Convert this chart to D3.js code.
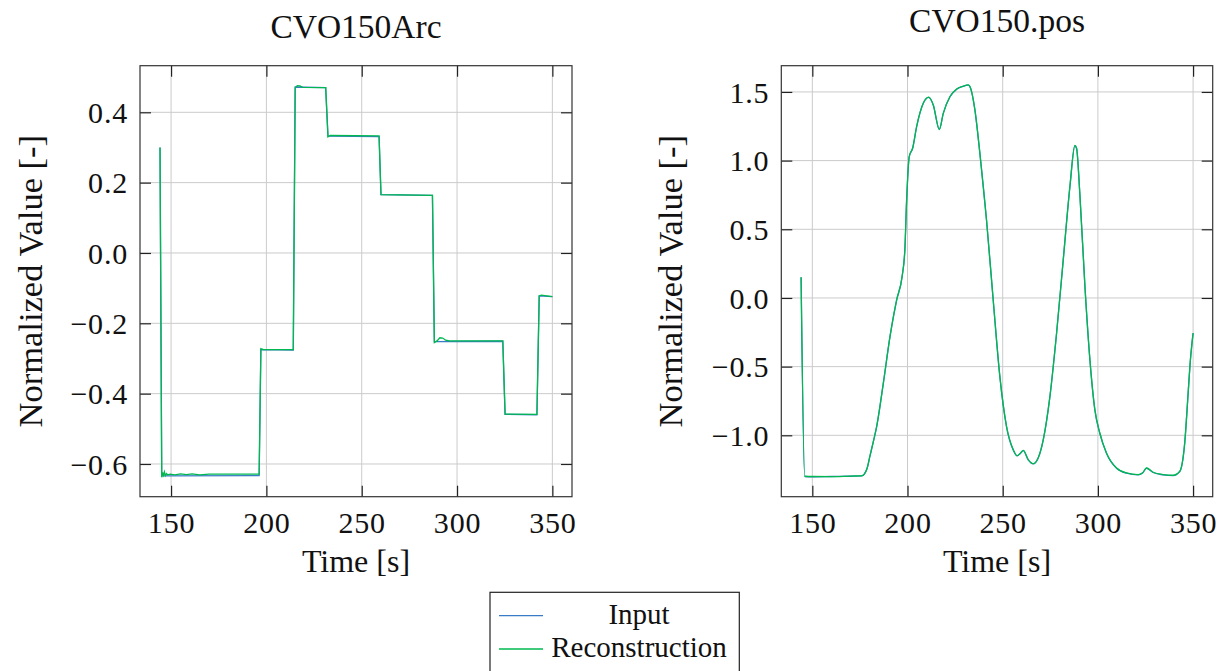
<!DOCTYPE html>
<html>
<head>
<meta charset="utf-8">
<script src="https://cdn.jsdelivr.net/npm/d3@7"></script>
<style>
  body { margin: 0; background: #fff; }
  text { font-family: "Liberation Serif", serif; fill: #111; }
</style>
</head>
<body>
<svg id="chart" width="1228" height="671"></svg>
<script>
// ---- data ----
var arcInputTime  = [144.2, 145.1, 196.2, 197.1, 214.1, 215.1, 231.1, 232.3, 259.1, 260.1, 287.1, 288.1, 324.0, 325.2, 341.9, 343.1, 350.0];
var arcInputValue = [0.300, -0.634, -0.633, -0.275, -0.276, 0.472, 0.470, 0.332, 0.331, 0.166, 0.164, -0.252, -0.251, -0.459, -0.460, -0.122, -0.124];

var arcReconTime  = [144.2, 145.1, 145.5, 146.0, 146.5, 147.0, 147.6, 148.3, 149.5, 152, 155, 158, 161, 165, 170, 196.2,
                     197.1, 198.5, 214.1, 215.1, 216.2, 217.6, 219, 231.1, 232.3, 233.5, 259.1, 260.1, 287.1, 288.1,
                     289.5, 291, 292.5, 294, 296, 324.0, 325.2, 341.9, 343.1, 344.2, 350.0];
var arcReconValue = [0.300, -0.638, -0.624, -0.632, -0.622, -0.633, -0.627, -0.631, -0.629, -0.631, -0.628, -0.630, -0.628, -0.631, -0.629, -0.629,
                     -0.272, -0.275, -0.275, 0.470, 0.476, 0.475, 0.471, 0.470, 0.330, 0.334, 0.333, 0.166, 0.164, -0.255,
                     -0.250, -0.241, -0.242, -0.248, -0.250, -0.250, -0.458, -0.459, -0.122, -0.120, -0.124];

var posTime = [144.1, 146.0, 150, 160, 170, 175.9, 177.3, 178.8, 180.3, 182.0, 183.8, 187.3, 190.8, 194.3, 197.1, 198.6, 199.5,
               200.9, 202.7, 204.8, 208.3, 211.1, 213.5, 216.7, 218.8, 222.3, 225.8, 229.0, 231.9, 232.8, 235.4, 238.0,
               241.5, 245.0, 248.5, 252.0, 255.5, 257.6, 259.4, 260.8, 263.4, 266.0, 268.6, 271.3, 274.8, 278.3, 281.8,
               285.3, 287.9, 288.8, 290.5, 293.2, 295.8, 298.4, 301.0, 304.5, 309.8, 315.0, 321.1, 323.5, 325.5, 329.0,
               334.2, 339.5, 343.0, 345.6, 347.4, 348.6, 350.0];
var posInput = [0.15, -1.300, -1.302, -1.300, -1.298, -1.296, -1.283, -1.240, -1.150, -1.050, -0.937, -0.62, -0.28, -0.015, 0.15, 0.35, 0.70,
                1.028, 1.09, 1.247, 1.417, 1.46, 1.405, 1.228, 1.344, 1.465, 1.519, 1.540, 1.550, 1.538, 1.368, 1.053,
                0.568, -0.015, -0.573, -0.937, -1.106, -1.150, -1.130, -1.111, -1.179, -1.208, -1.167, -1.033, -0.718, -0.257, 0.277,
                0.810, 1.108, 1.090, 0.762, 0.082, -0.451, -0.815, -0.985, -1.130, -1.240, -1.276, -1.288, -1.275, -1.240, -1.271,
                -1.288, -1.293, -1.264, -1.057, -0.694, -0.451, -0.257];
var posRecon = [0.15, -1.298, -1.300, -1.301, -1.297, -1.295, -1.282, -1.238, -1.148, -1.048, -0.935, -0.62, -0.282, -0.013, 0.152, 0.35, 0.70,
                1.030, 1.092, 1.249, 1.419, 1.462, 1.407, 1.226, 1.346, 1.467, 1.521, 1.541, 1.551, 1.539, 1.370, 1.055,
                0.566, -0.013, -0.571, -0.935, -1.104, -1.148, -1.128, -1.109, -1.177, -1.206, -1.165, -1.031, -0.716, -0.255, 0.279,
                0.812, 1.110, 1.088, 0.760, 0.080, -0.449, -0.813, -0.983, -1.128, -1.238, -1.274, -1.286, -1.273, -1.238, -1.269,
                -1.286, -1.291, -1.262, -1.055, -0.692, -0.449, -0.255];

var xTicks = [150, 200, 250, 300, 350];
var arcYTicks = [-0.6, -0.4, -0.2, 0.0, 0.2, 0.4];
var posYTicks = [-1.0, -0.5, 0.0, 0.5, 1.0, 1.5];
var seriesNames = ["Input", "Reconstruction"];
var seriesColors = ["#3a7bc8", "#00b84f"];

var svg = d3.select("#chart");

function zip(t, v) { return t.map(function(d, i) { return [d, v[i]]; }); }

function panel(o) {
  var x = d3.scaleLinear().domain([133.7, 360.3]).range([o.left, o.right]);
  var y = d3.scaleLinear().domain(o.yDomain).range([496.7, 65.7]);
  var g = svg.append("g");
  var tickLen = 11;

  // grid
  g.selectAll(".gx").data(xTicks).enter().append("line")
      .attr("x1", function(d) { return x(d); }).attr("x2", function(d) { return x(d); })
      .attr("y1", y.range()[0]).attr("y2", y.range()[1])
      .style("stroke", "#cbcbcb").style("stroke-width", 1);
  g.selectAll(".gy").data(o.yTicks).enter().append("line")
      .attr("x1", o.left).attr("x2", o.right)
      .attr("y1", function(d) { return y(d); }).attr("y2", function(d) { return y(d); })
      .style("stroke", "#cbcbcb").style("stroke-width", 1);

  // inward ticks on all sides
  var axes = [
    d3.axisBottom(x).tickValues(xTicks).tickSize(-tickLen),
    d3.axisTop(x).tickValues(xTicks).tickSize(-tickLen).tickFormat(""),
    d3.axisLeft(y).tickValues(o.yTicks).tickSize(-tickLen).tickFormat(d3.format(".1f")),
    d3.axisRight(y).tickValues(o.yTicks).tickSize(-tickLen).tickFormat("")
  ];
  var pos = ["translate(0,496.7)", "translate(0,65.7)", "translate(" + o.left + ",0)", "translate(" + o.right + ",0)"];
  axes.forEach(function(a, i) {
    var ag = g.append("g").attr("transform", pos[i]).call(a);
    ag.select(".domain").remove();
    ag.selectAll("line").style("stroke", "#222").style("stroke-width", 1.2);
    ag.selectAll("text").style("font-family", "Liberation Serif, serif").style("font-size", "30px")
        .style("letter-spacing", "0.8px").style("fill", "#111");
    if (i == 0) ag.selectAll("text").attr("y", 15).attr("dy", "0.71em");
    if (i == 2) ag.selectAll("text").attr("x", -12).attr("dy", "0.34em");
  });

  var line = d3.line()
      .x(function(d) { return x(d[0]); })
      .y(function(d) { return y(d[1]); })
      .curve(o.curve);

  o.series.forEach(function(s, i) {
    g.append("path").datum(s)
        .attr("d", line)
        .style("fill", "none")
        .style("stroke", seriesColors[i])
        .style("stroke-width", 1.3);
  });

  // frame
  g.append("rect")
      .attr("x", o.left).attr("y", 65.7)
      .attr("width", o.right - o.left).attr("height", 431)
      .style("fill", "none").style("stroke", "#333").style("stroke-width", 1.2);

  g.append("text")
      .attr("x", (o.left + o.right) / 2).attr("y", o.titleY)
      .attr("text-anchor", "middle").style("font-size", "33.5px")
      .text(o.title);
  g.append("text")
      .attr("x", (o.left + o.right) / 2).attr("y", 572)
      .attr("text-anchor", "middle").style("font-size", "32px")
      .text("Time [s]");
  g.append("text")
      .attr("transform", "translate(" + o.ylabelX + ",281.2) rotate(-90)")
      .attr("text-anchor", "middle").style("font-size", "34.5px")
      .text("Normalized Value [-]");
}

panel({
  left: 140, right: 572, yDomain: [-0.693, 0.5325], yTicks: arcYTicks,
  title: "CVO150Arc", titleY: 38.3, ylabelX: 42,
  curve: d3.curveLinear,
  series: [zip(arcInputTime, arcInputValue), zip(arcReconTime, arcReconValue)]
});

panel({
  left: 781.3, right: 1212.7, yDomain: [-1.447, 1.691], yTicks: posYTicks,
  title: "CVO150.pos", titleY: 31.7, ylabelX: 682,
  curve: d3.curveMonotoneX,
  series: [zip(posTime, posInput), zip(posTime, posRecon)]
});

// legend
var lg = svg.append("g");
lg.append("rect")
    .attr("x", 490).attr("y", 592.3).attr("width", 249.3).attr("height", 100)
    .style("fill", "#fff").style("stroke", "#222").style("stroke-width", 1.2);
seriesNames.forEach(function(name, i) {
  var yy = 615.7 + i * 33.3;
  lg.append("line")
      .attr("x1", 499).attr("x2", 543).attr("y1", yy).attr("y2", yy)
      .style("stroke", seriesColors[i]).style("stroke-width", 1.3);
  lg.append("text")
      .attr("x", 639).attr("y", yy + 8)
      .attr("text-anchor", "middle").style("font-size", "29px")
      .text(name);
});
</script>
</body>
</html>
